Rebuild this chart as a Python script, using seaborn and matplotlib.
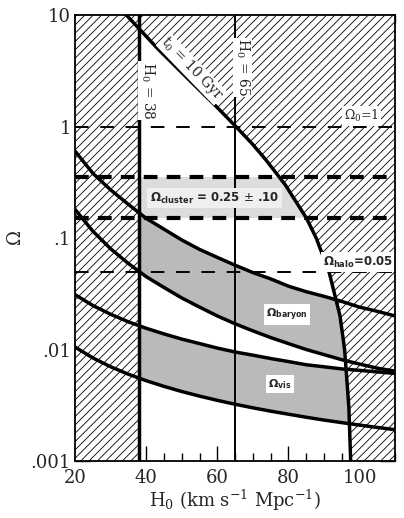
import numpy as np
import pandas as pd
import matplotlib
matplotlib.use("Agg")
import matplotlib.pyplot as plt
import seaborn as sns

# H0 grid for the baryon / visible matter curves
h_grid = [20, 25, 30, 35, 40, 45, 50, 55, 60, 65, 70, 75, 80, 85, 90, 95, 100, 105, 110]
baryon_hi = [0.60, 0.38, 0.27, 0.20, 0.15, 0.12, 0.096, 0.079, 0.067, 0.057, 0.049,
             0.043, 0.037, 0.033, 0.030, 0.027, 0.024, 0.022, 0.020]
baryon_lo = [0.18, 0.115, 0.080, 0.059, 0.045, 0.036, 0.029, 0.024, 0.020, 0.017, 0.0147,
             0.0128, 0.0113, 0.0100, 0.0090, 0.0081, 0.0074, 0.0068, 0.0064]
vis_hi = [0.031, 0.0248, 0.0207, 0.0177, 0.0155, 0.0138, 0.0124, 0.0113, 0.0103, 0.0095,
          0.0089, 0.0083, 0.0078, 0.0073, 0.0070, 0.0067, 0.0065, 0.0063, 0.0061]
vis_lo = [0.0105, 0.0084, 0.0070, 0.0060, 0.00525, 0.00467, 0.0042, 0.00382, 0.0035, 0.00323,
          0.0030, 0.0028, 0.00263, 0.00247, 0.00233, 0.00221, 0.0021, 0.0020, 0.00191]

# t0 = 10 Gyr age curve
age_omega = [10, 5, 3, 2, 1.5, 1, 0.7, 0.5, 0.3, 0.15, 0.1, 0.05, 0.02, 0.01, 0.003, 0.001]
age_h = [34.4, 43.2, 50.2, 55.8, 59.8, 65.2, 69.8, 73.7, 79.1, 85.1, 87.8, 91.4, 94.5, 95.8, 97.0, 97.5]

h_low, h_mid = 38, 65
omega_one = 1.0
cluster_band = (0.15, 0.35)
omega_halo = 0.05

sns.set_style("ticks")
plt.rcParams['font.family'] = ['DejaVu Serif']
plt.rcParams['mathtext.fontset'] = 'dejavuserif'
plt.rcParams['hatch.linewidth'] = 0.6

fig = plt.figure(figsize=(4.04, 5.18), dpi=100)
ax = fig.add_axes([0.186, 0.110, 0.792, 0.861])
ax.set_yscale('log')
ax.set_xlim(20, 110)
ax.set_ylim(0.001, 10)

# shaded bands
ax.fill_between([20, 110], cluster_band[0], cluster_band[1], color='#dcdcdc', lw=0, zorder=1)
ax.fill_between(h_grid, baryon_lo, baryon_hi, color='#bababa', lw=0, zorder=1.1)
ax.fill_between(h_grid, vis_lo, vis_hi, color='#bababa', lw=0, zorder=1.1)

# excluded (hatched) regions
ax.axvspan(20, h_low, facecolor='white', edgecolor='black', hatch='////', lw=0, zorder=2)
ax.fill_betweenx(age_omega, age_h, 110, facecolor='white', edgecolor='black',
                 hatch='////', lw=0, zorder=2)

# curves
for ys in [baryon_hi, baryon_lo, vis_hi, vis_lo]:
    sns.lineplot(x=h_grid, y=ys, ax=ax, color='black', lw=2.5, zorder=4)
sns.lineplot(x=age_h, y=age_omega, ax=ax, color='black', lw=2.5, sort=False, zorder=4)
ax.axvline(h_low, color='black', lw=2.5, zorder=4)
ax.axvline(h_mid, color='black', lw=1.4, zorder=4)

# horizontal dashed lines
ax.axhline(omega_one, color='black', lw=1.4, dashes=(7, 6), zorder=3)
ax.axhline(omega_halo, color='black', lw=1.4, dashes=(7, 6), zorder=3)
for v in cluster_band:
    ax.axhline(v, color='black', lw=3, dashes=(3.3, 2.2), zorder=3)

# labels
box = dict(facecolor='white', edgecolor='none', pad=1.5)
sans = 'DejaVu Sans'
ax.text(79.6, 0.0205, r'$\mathbf{\Omega_{baryon}}$', ha='center', va='center', fontsize=8,
        bbox=box, zorder=5, math_fontfamily='dejavusans')
ax.text(77.6, 0.0049, r'$\mathbf{\Omega_{vis}}$', ha='center', va='center', fontsize=8,
        bbox=box, zorder=5, math_fontfamily='dejavusans')
ax.text(59.3, 0.228, r'$\mathbf{\Omega_{cluster}}$ = 0.25 $\pm$ .10', ha='center', va='center',
        fontsize=8.5, fontweight='bold', family=sans, math_fontfamily='dejavusans',
        bbox=dict(facecolor='#efefef', edgecolor='none', pad=2), zorder=5)
ax.text(109.6, 0.061, r'$\mathbf{\Omega_{halo}}$=0.05', ha='right', va='center', fontsize=8.5,
        family=sans, fontweight='bold', math_fontfamily='dejavusans', bbox=box, zorder=5)
ax.text(100.6, 1.25, r'$\Omega_0$=1', ha='center', va='center', fontsize=9, bbox=box, zorder=5)
ax.text(52.8, 3.3, r't$_0$ = 10 Gyr', ha='center', va='center', rotation=-46,
        rotation_mode='anchor', fontsize=10, bbox=dict(facecolor='white', edgecolor='none', pad=0.5),
        zorder=5)
ax.text(40.3, 2.1, r'H$_0$ = 38', ha='center', va='center', rotation=-90, fontsize=10,
        bbox=dict(facecolor='white', edgecolor='none', pad=0.5), zorder=5)
ax.text(67.0, 3.4, r'H$_0$ = 65', ha='center', va='center', rotation=-90, fontsize=10,
        bbox=dict(facecolor='white', edgecolor='none', pad=0.5), zorder=5)

# axes formatting
ax.set_xticks([20, 40, 60, 80, 100])
ax.set_xticklabels(['20', '40', '60', '80', '100'])
ax.set_xticks(np.arange(20, 111, 5), minor=True)
ax.set_yticks([0.001, 0.01, 0.1, 1, 10])
ax.set_yticklabels(['.001', '.01', '.1', '1', '10'])
ax.tick_params(which='major', direction='in', length=11, width=1, top=True, right=True,
               labelsize=13, color='black')
ax.tick_params(which='minor', direction='in', length=5.5, width=1, top=True, right=True,
               color='black')
ax.tick_params(axis='x', which='major', pad=6)
ax.tick_params(axis='y', which='major', pad=3)
for s in ax.spines.values():
    s.set_linewidth(1.3)
    s.set_color('black')
    s.set_zorder(6)
ax.set_xlabel(r'H$_0$ (km s$^{-1}$ Mpc$^{-1}$)', fontsize=13, labelpad=0)
ax.set_ylabel(r'$\Omega$', fontsize=13, labelpad=4)

fig.savefig('out.png', dpi=100)
